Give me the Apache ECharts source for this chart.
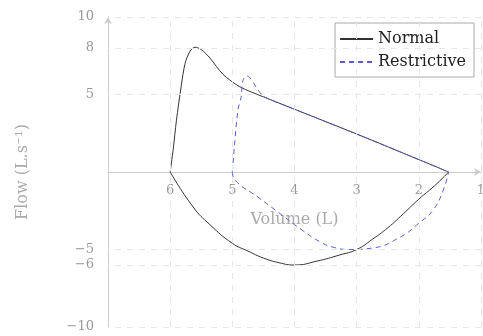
<!DOCTYPE html>
<html><head><meta charset="utf-8">
<script src="https://cdn.jsdelivr.net/npm/echarts@6/dist/echarts.min.js"></script>
<style>html,body{margin:0;padding:0;background:#fff}#c{width:483px;height:336px}</style>
</head><body><div id="c"></div>
<script>
// Tick values
const xTickValues = [6, 5, 4, 3, 2, 1];
const yTickValues = [-10, -6, -5, 5, 8, 10];
// Normal loop: expiratory (upper) and inspiratory (lower) limbs, [volume, flow]
const normalUpperVolume = [6, 5.95, 5.9, 5.82, 5.76, 5.68, 5.6, 5.5, 5.36, 5.15, 4.88, 4.5, 4, 3, 2, 1.52];
const normalUpperFlow   = [0, 1.5, 3.3, 5.6, 7.0, 7.8, 8.05, 7.9, 7.35, 6.3, 5.5, 4.85, 4.05, 2.45, 0.8, 0];
const normalLowerVolume = [6, 5.63, 5.36, 5, 4.75, 4.5, 4.25, 4, 3.64, 3.27, 3, 2.75, 2.5, 2.25, 2, 1.75, 1.52];
const normalLowerFlow   = [0, -2.26, -3.4, -4.6, -5.1, -5.55, -5.85, -6.0, -5.75, -5.35, -5.0, -4.35, -3.6, -2.7, -1.75, -0.9, 0];
// Restrictive loop
const restrictiveUpperVolume = [5, 4.97, 4.91, 4.86, 4.83, 4.77, 4.72, 4.65, 4.59, 4.48, 4, 3, 2, 1.52];
const restrictiveUpperFlow   = [0, 1.5, 4.0, 4.8, 5.9, 6.2, 6.1, 5.7, 5.3, 4.84, 4.05, 2.45, 0.8, 0];
const restrictiveLowerVolume = [5, 4.96, 4.56, 4.31, 3.86, 3.59, 3.38, 3.11, 2.74, 2.3, 2.0, 1.77, 1.61, 1.52];
const restrictiveLowerFlow   = [0, -0.5, -1.7, -2.45, -3.8, -4.5, -4.85, -5.0, -4.9, -4.2, -3.3, -2.45, -1.2, 0];

const zip = (a, b) => a.map((v, i) => [v, b[i]]);
const serif = 'DejaVu Serif';
const normalColor = '#333333';
const restrColor = '#5a5ad8';

const gridData = [];
xTickValues.forEach(v => gridData.push({ xAxis: v }));
yTickValues.forEach(v => gridData.push({ yAxis: v }));

const gridTop = 17, gridBottom = 9, H = 336;
// offset the x axis up so it sits on flow = 0 (middle of the symmetric -10..10 range)
const plotH = H - gridTop - gridBottom;
const xAxisOffset = -plotH / 2;

const chart = echarts.init(document.getElementById('c'), null, { renderer: 'canvas' });
chart.setOption({
  animation: false,
  grid: { left: 108, right: 2, top: gridTop, bottom: gridBottom, containLabel: false, outerBoundsMode: 'none' },
  legend: {
    right: 9, top: 23, orient: 'vertical',
    data: ['Normal', 'Restrictive'],
    borderColor: '#aaaaaa', borderWidth: 1, borderRadius: 0,
    padding: [8, 8, 7, 4], itemGap: 7, itemWidth: 33, itemHeight: 14,
    itemStyle: { opacity: 0 },
    textStyle: { fontFamily: serif, fontSize: 16, color: '#222' }
  },
  xAxis: {
    type: 'value', min: 1, max: 7, inverse: true, position: 'bottom', offset: xAxisOffset,
    name: 'Volume (L)', nameLocation: 'middle', nameGap: 40,
    nameTextStyle: { fontFamily: serif, fontSize: 16, color: '#aaaaaa' },
    axisLine: { onZero: false, lineStyle: { color: '#cccccc', width: 1 }, symbol: ['none', 'arrow'], symbolSize: [6, 7] },
    axisTick: { show: false },
    axisLabel: { customValues: xTickValues, fontFamily: serif, fontSize: 13, color: '#999999', margin: 12 },
    splitLine: { show: false }
  },
  yAxis: {
    type: 'value', min: -10, max: 10,
    name: 'Flow (L.s⁻¹)', nameLocation: 'middle', nameGap: 77, nameRotate: 90,
    nameTextStyle: { fontFamily: serif, fontSize: 16, color: '#aaaaaa' },
    axisLine: { show: true, onZero: false, lineStyle: { color: '#cccccc', width: 1 }, symbol: ['none', 'arrow'], symbolSize: [6, 7] },
    axisTick: { show: false },
    axisLabel: { customValues: yTickValues, fontFamily: serif, fontSize: 13, color: '#999999', margin: 14,
      formatter: v => String(v).replace('-', '\u2212') },
    splitLine: { show: false }
  },
  series: [
    {
      name: 'grid', type: 'line', data: [], silent: true,
      markLine: { silent: true, symbol: 'none', label: { show: false },
        lineStyle: { color: '#e6e6e6', type: [6, 6], width: 1 }, data: gridData, animation: false }
    },
    { name: 'Normal', type: 'line', data: zip(normalUpperVolume, normalUpperFlow), smooth: 0.3, showSymbol: false, symbol: 'none',
      lineStyle: { color: normalColor, width: 1 }, itemStyle: { color: normalColor } },
    { name: 'Normal', type: 'line', data: zip(normalLowerVolume, normalLowerFlow), smooth: 0.5, showSymbol: false, symbol: 'none',
      lineStyle: { color: normalColor, width: 1 }, itemStyle: { color: normalColor } },
    { name: 'Restrictive', type: 'line', data: zip(restrictiveUpperVolume, restrictiveUpperFlow), smooth: 0.3, showSymbol: false, symbol: 'none',
      lineStyle: { color: restrColor, width: 1, type: [5, 4] }, itemStyle: { color: restrColor } },
    { name: 'Restrictive', type: 'line', data: zip(restrictiveLowerVolume, restrictiveLowerFlow), smooth: 0.5, showSymbol: false, symbol: 'none',
      lineStyle: { color: restrColor, width: 1, type: [5, 4] }, itemStyle: { color: restrColor } }
  ]
});
</script></body></html>
